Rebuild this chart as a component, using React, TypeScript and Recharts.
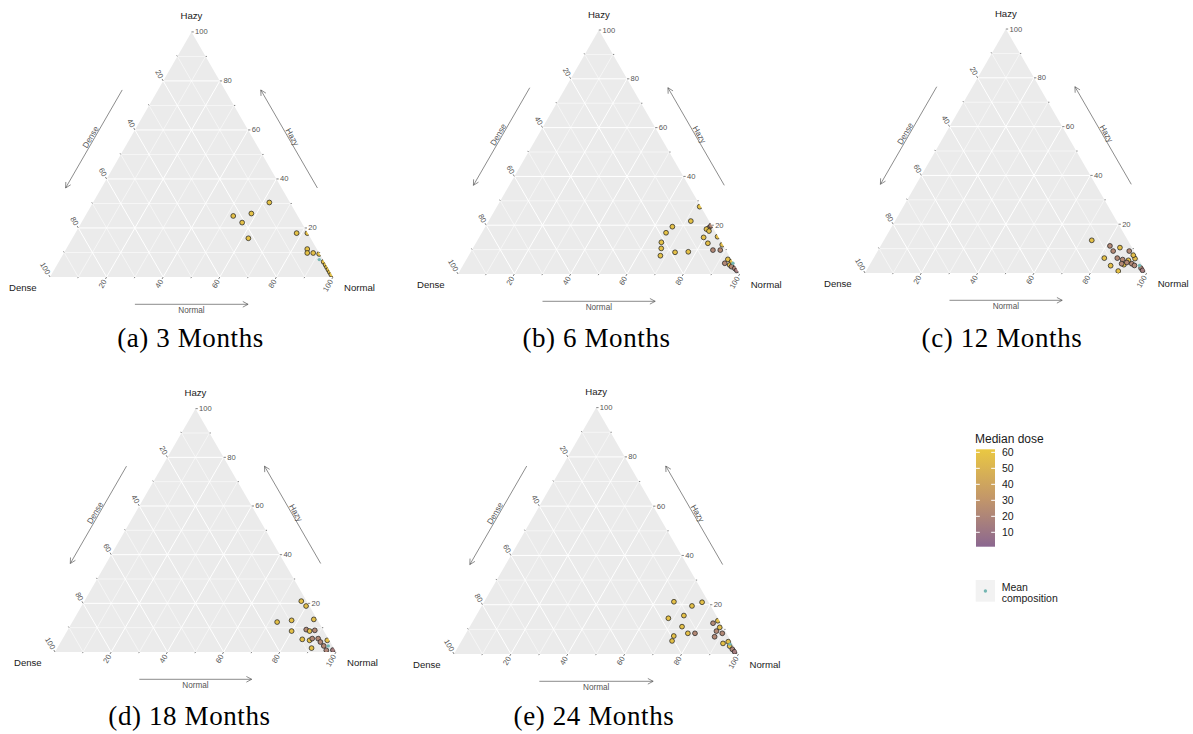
import React from 'react';
import { ComposedChart, XAxis, YAxis, Area, Scatter, ReferenceLine } from 'recharts';

const SQ = Math.sqrt(3) / 2;

type Comp = { hazy: number; normal: number; dose: number };
type Mean = { hazy: number; normal: number };

// ---- data (ternary compositions in %, Dense = 100 - Hazy - Normal) ----
const points3m: Comp[] = [
  { hazy: 30.4, normal: 62.3, dose: 58 },
  { hazy: 24.9, normal: 52.3, dose: 57 },
  { hazy: 25.9, normal: 58.2, dose: 58 },
  { hazy: 22.2, normal: 56.8, dose: 57 },
  { hazy: 15.8, normal: 62.2, dose: 58 },
  { hazy: 17.9, normal: 78.2, dose: 58 },
  { hazy: 17.9, normal: 82.0, dose: 57 },
  { hazy: 11.4, normal: 85.2, dose: 58 },
  { hazy: 9.8, normal: 86.0, dose: 58 },
  { hazy: 9.8, normal: 88.1, dose: 57 },
  { hazy: 9.4, normal: 90.4, dose: 58 },
  { hazy: 6.2, normal: 93.6, dose: 57 },
  { hazy: 5.0, normal: 94.9, dose: 58 },
  { hazy: 4.0, normal: 95.9, dose: 57 },
  { hazy: 3.0, normal: 96.9, dose: 58 },
  { hazy: 2.0, normal: 97.9, dose: 57 },
  { hazy: 1.0, normal: 98.9, dose: 58 },
];
const mean3m: Mean = { hazy: 7.1, normal: 91.6 };

const points6m: Comp[] = [
  { hazy: 27.6, normal: 72.0, dose: 58 },
  { hazy: 21.7, normal: 71.8, dose: 58 },
  { hazy: 19.4, normal: 66.4, dose: 57 },
  { hazy: 16.9, normal: 65.4, dose: 58 },
  { hazy: 13.0, normal: 65.7, dose: 58 },
  { hazy: 10.5, normal: 66.9, dose: 57 },
  { hazy: 7.5, normal: 68.1, dose: 58 },
  { hazy: 8.9, normal: 72.6, dose: 57 },
  { hazy: 9.1, normal: 77.2, dose: 57 },
  { hazy: 18.9, normal: 79.6, dose: 23 },
  { hazy: 18.4, normal: 79.0, dose: 57 },
  { hazy: 17.6, normal: 80.3, dose: 57 },
  { hazy: 15.0, normal: 79.7, dose: 57 },
  { hazy: 12.6, normal: 82.4, dose: 56 },
  { hazy: 9.8, normal: 85.6, dose: 22 },
  { hazy: 9.8, normal: 88.2, dose: 23 },
  { hazy: 19.8, normal: 79.9, dose: 23 },
  { hazy: 15.3, normal: 84.5, dose: 55 },
  { hazy: 12.0, normal: 87.8, dose: 56 },
  { hazy: 6.0, normal: 92.8, dose: 57 },
  { hazy: 4.4, normal: 92.5, dose: 22 },
  { hazy: 3.7, normal: 94.6, dose: 57 },
  { hazy: 3.0, normal: 95.6, dose: 23 },
  { hazy: 5.2, normal: 94.6, dose: 56 },
  { hazy: 2.3, normal: 97.1, dose: 20 },
  { hazy: 1.5, normal: 98.2, dose: 15 },
];
const mean6m: Mean = { hazy: 4.4, normal: 95.4 };

const points12m: Comp[] = [
  { hazy: 13.4, normal: 73.8, dose: 57 },
  { hazy: 11.1, normal: 81.4, dose: 22 },
  { hazy: 10.4, normal: 85.3, dose: 56 },
  { hazy: 9.0, normal: 83.6, dose: 22 },
  { hazy: 9.0, normal: 89.3, dose: 22 },
  { hazy: 6.1, normal: 86.5, dose: 22 },
  { hazy: 5.5, normal: 88.7, dose: 22 },
  { hazy: 5.2, normal: 90.9, dose: 56 },
  { hazy: 6.1, normal: 81.9, dose: 57 },
  { hazy: 3.0, normal: 85.7, dose: 57 },
  { hazy: 0.8, normal: 89.5, dose: 57 },
  { hazy: 3.4, normal: 90.2, dose: 56 },
  { hazy: 4.3, normal: 90.8, dose: 22 },
  { hazy: 3.8, normal: 92.8, dose: 22 },
  { hazy: 3.1, normal: 94.1, dose: 22 },
  { hazy: 5.9, normal: 92.9, dose: 55 },
  { hazy: 7.3, normal: 91.6, dose: 55 },
  { hazy: 3.8, normal: 89.2, dose: 22 },
  { hazy: 2.0, normal: 97.0, dose: 20 },
  { hazy: 1.1, normal: 98.0, dose: 15 },
];
const mean12m: Mean = { hazy: 3.1, normal: 95.9 };

const points18m: Comp[] = [
  { hazy: 20.9, normal: 77.2, dose: 57 },
  { hazy: 18.9, normal: 79.9, dose: 56 },
  { hazy: 12.3, normal: 72.9, dose: 57 },
  { hazy: 13.0, normal: 77.7, dose: 57 },
  { hazy: 13.4, normal: 85.4, dose: 56 },
  { hazy: 8.6, normal: 79.9, dose: 57 },
  { hazy: 9.2, normal: 84.8, dose: 22 },
  { hazy: 8.6, normal: 86.3, dose: 57 },
  { hazy: 8.9, normal: 88.0, dose: 22 },
  { hazy: 5.2, normal: 85.4, dose: 57 },
  { hazy: 4.8, normal: 88.2, dose: 57 },
  { hazy: 5.5, normal: 88.8, dose: 22 },
  { hazy: 1.6, normal: 90.5, dose: 57 },
  { hazy: 5.5, normal: 90.9, dose: 22 },
  { hazy: 4.1, normal: 92.4, dose: 22 },
  { hazy: 2.5, normal: 94.4, dose: 22 },
  { hazy: 4.8, normal: 94.5, dose: 56 },
  { hazy: 0.7, normal: 96.2, dose: 20 },
  { hazy: 0.8, normal: 98.5, dose: 15 },
];
const mean18m: Mean = { hazy: 2.5, normal: 96.0 };

const points24m: Comp[] = [
  { hazy: 21.2, normal: 66.7, dose: 57 },
  { hazy: 21.0, normal: 76.7, dose: 57 },
  { hazy: 19.5, normal: 73.9, dose: 57 },
  { hazy: 15.6, normal: 73.0, dose: 57 },
  { hazy: 14.5, normal: 68.1, dose: 57 },
  { hazy: 11.1, normal: 74.6, dose: 57 },
  { hazy: 8.4, normal: 78.0, dose: 57 },
  { hazy: 8.4, normal: 80.5, dose: 22 },
  { hazy: 7.3, normal: 73.6, dose: 57 },
  { hazy: 5.3, normal: 74.0, dose: 57 },
  { hazy: 12.5, normal: 84.8, dose: 22 },
  { hazy: 9.3, normal: 87.6, dose: 22 },
  { hazy: 7.0, normal: 88.1, dose: 22 },
  { hazy: 8.4, normal: 90.1, dose: 22 },
  { hazy: 4.3, normal: 92.4, dose: 57 },
  { hazy: 13.5, normal: 86.0, dose: 56 },
  { hazy: 10.8, normal: 88.0, dose: 56 },
  { hazy: 5.0, normal: 93.9, dose: 56 },
  { hazy: 3.2, normal: 95.3, dose: 57 },
  { hazy: 1.9, normal: 96.9, dose: 20 },
  { hazy: 0.9, normal: 98.2, dose: 15 },
];
const mean24m: Mean = { hazy: 4.0, normal: 95.0 };

const gridSteps = [10, 20, 30, 40, 50, 60, 70, 80, 90];
const majorTicks = [20, 40, 60, 80, 100];
const minorTicks = [10, 30, 50, 70, 90];
const legendTicks = [10, 20, 30, 40, 50, 60];
const doseRange = [1, 61.9];
const vertexNames = { top: 'Hazy', left: 'Dense', right: 'Normal' };
const legendTitle = 'Median dose';
const meanLegendLines = ['Mean', 'composition'];

// ---- styles ----
const colorStops = [
  { v: 1, rgb: [139, 103, 144] },
  { v: 31, rgb: [194, 150, 106] },
  { v: 62, rgb: [234, 200, 66] },
];
const SANS = '"Liberation Sans", Arial, Helvetica, sans-serif';
const SERIF = '"Liberation Serif", "Times New Roman", serif';

function doseColor(v: number): string {
  const c = Math.max(colorStops[0].v, Math.min(colorStops[colorStops.length - 1].v, v));
  for (let i = 0; i < colorStops.length - 1; i++) {
    const a = colorStops[i];
    const b = colorStops[i + 1];
    if (c >= a.v && c <= b.v) {
      const t = (c - a.v) / (b.v - a.v);
      const rgb = a.rgb.map((x, k) => Math.round(x + (b.rgb[k] - x) * t));
      return `rgb(${rgb[0]},${rgb[1]},${rgb[2]})`;
    }
  }
  return 'rgb(0,0,0)';
}

const panelLayout = [
  { id: 'a', caption: '(a) 3 Months', pts: points3m, mean: mean3m, X0: 50, Y0: 276.7, W: 283, capX: 190.5, capY: 346.5 },
  { id: 'b', caption: '(b) 6 Months', pts: points6m, mean: mean6m, X0: 458.3, Y0: 274, W: 281.7, capX: 596.5, capY: 346.5 },
  { id: 'c', caption: '(c) 12 Months', pts: points12m, mean: mean12m, X0: 865, Y0: 272.7, W: 281.7, capX: 1002, capY: 346.5 },
  { id: 'd', caption: '(d) 18 Months', pts: points18m, mean: mean18m, X0: 54.5, Y0: 651.7, W: 281, capX: 189.5, capY: 724.5 },
  { id: 'e', caption: '(e) 24 Months', pts: points24m, mean: mean24m, X0: 454.3, Y0: 654, W: 284.5, capX: 594, capY: 724.5 },
];

type XY = { x: number; y: number };
const P = (h: number, n: number): XY => ({ x: n + h / 2, y: h * SQ });

const TextShape = (props: any) => {
  const { cx, cy, payload } = props;
  if (cx == null || cy == null) return null;
  return (
    <text
      x={cx}
      y={cy}
      transform={payload.angle ? `rotate(${payload.angle} ${cx} ${cy})` : undefined}
      textAnchor={payload.anchor}
      dominantBaseline="central"
      fontSize={payload.size}
      fill={payload.fill}
      fontFamily={SANS}
    >
      {payload.text}
    </text>
  );
};

// point clipped to the triangle (the triangle is rebuilt from the scaled point position)
const PointShape = (props: any) => {
  const { cx, cy, payload } = props;
  if (cx == null || cy == null) return null;
  const s = payload.s;
  const bx = cx - payload.x * s;
  const by = cy + payload.y * s;
  const poly = `${bx},${by} ${bx + 100 * s},${by} ${bx + 50 * s},${by - 100 * SQ * s}`;
  const id = payload.clipId;
  return (
    <g>
      <defs>
        <clipPath id={id}>
          <polygon points={poly} />
        </clipPath>
      </defs>
      <circle cx={cx} cy={cy} r={2.4} fill={payload.fill} stroke="#1a1a1a" strokeWidth={0.7} clipPath={`url(#${id})`} />
    </g>
  );
};

const MeanShape = (props: any) => {
  const { cx, cy } = props;
  if (cx == null || cy == null) return null;
  return <circle cx={cx} cy={cy} r={1.7} fill="#74b6b2" />;
};

function TernaryPanel({ cfg }: { cfg: (typeof panelLayout)[number] }) {
  const s = cfg.W / 100;
  const CW = 430;
  const CH = 330;
  const OL = 65;
  const OT = 282;
  const xDomain = [-OL / s, (CW - OL) / s];
  const yDomain = [-(CH - OT) / s, OT / s];
  const off = (pt: XY, dx: number, dy: number): XY => ({ x: pt.x + dx / s, y: pt.y - dy / s });
  const U = (dx: number, dy: number): XY => ({ x: dx / s, y: -dy / s });

  const tri = [P(0, 0), P(100, 0), P(0, 100)].sort((a, b) => a.x - b.x);

  const segs: { a: XY; b: XY; stroke: string; w: number; key: string }[] = [];
  gridSteps.forEach((v) => {
    const w = v % 20 === 0 ? 1 : 0.55;
    segs.push({ a: P(v, 0), b: P(v, 100 - v), stroke: '#ffffff', w, key: `gh${v}` });
    segs.push({ a: P(0, v), b: P(100 - v, v), stroke: '#ffffff', w, key: `gn${v}` });
    segs.push({ a: P(0, 100 - v), b: P(100 - v, 0), stroke: '#ffffff', w, key: `gd${v}` });
  });

  const axes = [
    { id: 'h', base: (v: number) => P(v, 100 - v), dir: [1, 0], angle: 0, anchor: 'start' },
    { id: 'd', base: (v: number) => P(100 - v, 0), dir: [-0.5, -SQ], angle: 60, anchor: 'end' },
    { id: 'n', base: (v: number) => P(0, v), dir: [-0.5, SQ], angle: -60, anchor: 'end' },
  ];
  const labels: any[] = [];
  axes.forEach((ax) => {
    majorTicks.forEach((v) => {
      const b = ax.base(v);
      segs.push({ a: b, b: off(b, ax.dir[0] * 2.3, ax.dir[1] * 2.3), stroke: '#333333', w: 0.6, key: `t${ax.id}${v}` });
      const lp = off(b, ax.dir[0] * 3.6, ax.dir[1] * 3.6);
      labels.push({ ...lp, text: String(v), angle: ax.angle, anchor: ax.anchor, size: 7.6, fill: '#555555' });
    });
    minorTicks.forEach((v) => {
      const b = ax.base(v);
      segs.push({ a: b, b: off(b, ax.dir[0] * 1.3, ax.dir[1] * 1.3), stroke: '#333333', w: 0.6, key: `m${ax.id}${v}` });
    });
  });

  // axis arrows (pixel offsets relative to the Dense vertex)
  const W = cfg.W;
  const BLp = [0, 0];
  const BRp = [W, 0];
  const Ap = [W / 2, -W * SQ];
  const lerp = (p: number[], q: number[], t: number) => [p[0] + (q[0] - p[0]) * t, p[1] + (q[1] - p[1]) * t];
  const arrowSpecs = [
    { id: 'ad', from: Ap, to: BLp, n: [-SQ, -0.5], o: 31, lo: 34.5, text: vertexNames.left, angle: -60 },
    { id: 'ah', from: BRp, to: Ap, n: [SQ, -0.5], o: 31, lo: 34.5, text: vertexNames.top, angle: 60 },
    { id: 'an', from: BLp, to: BRp, n: [0, 1], o: 27.3, lo: 33.6, text: vertexNames.right, angle: 0 },
  ];
  arrowSpecs.forEach((ar) => {
    const s0 = lerp(ar.from, ar.to, 0.3);
    const e0 = lerp(ar.from, ar.to, 0.7);
    const S = [s0[0] + ar.n[0] * ar.o, s0[1] + ar.n[1] * ar.o];
    const E = [e0[0] + ar.n[0] * ar.o, e0[1] + ar.n[1] * ar.o];
    const len = Math.hypot(E[0] - S[0], E[1] - S[1]);
    const d = [(E[0] - S[0]) / len, (E[1] - S[1]) / len];
    segs.push({ a: U(S[0], S[1]), b: U(E[0], E[1]), stroke: '#5a5a5a', w: 0.7, key: `${ar.id}l` });
    [28, -28].forEach((deg, k) => {
      const th = (deg * Math.PI) / 180;
      const r = [d[0] * Math.cos(th) - d[1] * Math.sin(th), d[0] * Math.sin(th) + d[1] * Math.cos(th)];
      segs.push({ a: U(E[0], E[1]), b: U(E[0] - r[0] * 6, E[1] - r[1] * 6), stroke: '#5a5a5a', w: 0.7, key: `${ar.id}h${k}` });
    });
    const m0 = lerp(ar.from, ar.to, 0.5);
    const L = U(m0[0] + ar.n[0] * ar.lo, m0[1] + ar.n[1] * ar.lo);
    labels.push({ ...L, text: ar.text, angle: ar.angle, anchor: 'middle', size: 8.2, fill: '#555555' });
  });

  labels.push({ ...U(W / 2, -W * SQ - 16), text: vertexNames.top, angle: 0, anchor: 'middle', size: 9.6, fill: '#1a1a1a' });
  labels.push({ ...U(-13.3, 10), text: vertexNames.left, angle: 0, anchor: 'end', size: 9.6, fill: '#1a1a1a' });
  labels.push({ ...U(W + 11, 10), text: vertexNames.right, angle: 0, anchor: 'start', size: 9.6, fill: '#1a1a1a' });

  const pointData = cfg.pts.map((p, i) => ({
    ...P(p.hazy, p.normal),
    fill: doseColor(p.dose),
    s,
    clipId: `clip-${cfg.id}-${i}`,
  }));
  const meanData = [P(cfg.mean.hazy, cfg.mean.normal)];

  return (
    <div style={{ position: 'absolute', left: cfg.X0 - OL, top: cfg.Y0 - OT, width: CW, height: CH }}>
      <ComposedChart width={CW} height={CH} data={tri} margin={{ top: 0, right: 0, bottom: 0, left: 0 }}>
        <XAxis type="number" dataKey="x" domain={xDomain} allowDataOverflow hide />
        <YAxis type="number" dataKey="y" domain={yDomain} allowDataOverflow hide />
        <Area
          type="linear"
          dataKey="y"
          baseValue={0}
          stroke="none"
          fill="#ebebeb"
          fillOpacity={1}
          dot={false}
          activeDot={false}
          isAnimationActive={false}
        />
        {segs.map((sg) => (
          <ReferenceLine
            key={`${cfg.id}-${sg.key}`}
            segment={[sg.a, sg.b]}
            stroke={sg.stroke}
            strokeWidth={sg.w}
            ifOverflow="visible"
            zIndex={150}
          />
        ))}
        <Scatter data={labels} shape={TextShape} isAnimationActive={false} />
        <Scatter data={pointData} shape={PointShape} isAnimationActive={false} />
        <Scatter data={meanData} shape={MeanShape} isAnimationActive={false} />
      </ComposedChart>
    </div>
  );
}

function Overlay() {
  const barTop = 449.3;
  const barBot = 546.7;
  const yOf = (v: number) => barTop + ((doseRange[1] - v) / (doseRange[1] - doseRange[0])) * (barBot - barTop);
  const gradStops = [0, 0.25, 0.5, 0.75, 1].map((t) => ({
    t,
    c: doseColor(doseRange[1] - t * (doseRange[1] - doseRange[0])),
  }));
  return (
    <svg width={1193} height={734} style={{ position: 'absolute', left: 0, top: 0 }}>
      <defs>
        <linearGradient id="doseGrad" x1="0" y1="0" x2="0" y2="1">
          {gradStops.map((g) => (
            <stop key={g.t} offset={g.t} stopColor={g.c} />
          ))}
        </linearGradient>
      </defs>
      {panelLayout.map((p) => (
        <text
          key={p.id}
          x={p.capX}
          y={p.capY}
          textAnchor="middle"
          fontFamily={SERIF}
          fontSize={27}
          letterSpacing={0.6}
          fill="#000"
        >
          {p.caption}
        </text>
      ))}
      <text x={975} y={442.5} fontFamily={SANS} fontSize={12} fill="#1a1a1a">
        {legendTitle}
      </text>
      <rect x={976} y={barTop} width={19} height={barBot - barTop} fill="url(#doseGrad)" />
      {legendTicks.map((v) => (
        <g key={v}>
          <line x1={976} x2={979.8} y1={yOf(v)} y2={yOf(v)} stroke="#fff" strokeWidth={1} />
          <line x1={991.2} x2={995} y1={yOf(v)} y2={yOf(v)} stroke="#fff" strokeWidth={1} />
          <text x={1002} y={yOf(v)} dominantBaseline="central" fontFamily={SANS} fontSize={10.5} fill="#1a1a1a">
            {v}
          </text>
        </g>
      ))}
      <rect x={975.7} y={580} width={19.3} height={21.7} fill="#f2f2f2" />
      <circle cx={985.4} cy={591} r={1.7} fill="#74b6b2" />
      {meanLegendLines.map((t, i) => (
        <text key={t} x={1001.7} y={586.7 + i * 10.8} dominantBaseline="central" fontFamily={SANS} fontSize={10.5} fill="#1a1a1a">
          {t}
        </text>
      ))}
    </svg>
  );
}

export default function App() {
  return (
    <div style={{ position: 'relative', width: 1193, height: 734, background: '#fff', overflow: 'hidden' }}>
      <style>{'body{margin:0;}'}</style>
      <Overlay />
      {panelLayout.map((p) => (
        <TernaryPanel key={p.id} cfg={p} />
      ))}
    </div>
  );
}
